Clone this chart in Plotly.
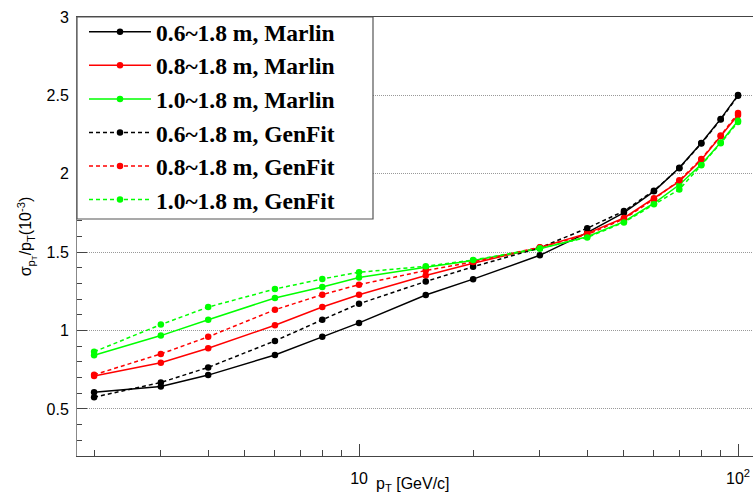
import plotly.graph_objects as go

pt = [2, 3, 4, 6, 8, 10, 15, 20, 30, 40, 50, 60, 70, 80, 90, 100]

marlin_06 = [0.607, 0.643, 0.716, 0.844, 0.960, 1.049, 1.227, 1.328, 1.480, 1.625, 1.752, 1.888, 2.038, 2.197, 2.350, 2.502]
marlin_08 = [0.710, 0.795, 0.887, 1.034, 1.150, 1.229, 1.351, 1.430, 1.530, 1.620, 1.718, 1.844, 1.952, 2.090, 2.240, 2.375]
marlin_10 = [0.842, 0.968, 1.069, 1.208, 1.278, 1.338, 1.404, 1.447, 1.522, 1.598, 1.695, 1.812, 1.930, 2.060, 2.200, 2.338]
genfit_06 = [0.575, 0.669, 0.765, 0.934, 1.069, 1.171, 1.313, 1.407, 1.528, 1.653, 1.762, 1.892, 2.035, 2.193, 2.346, 2.497]
genfit_08 = [0.718, 0.851, 0.960, 1.133, 1.229, 1.293, 1.383, 1.438, 1.532, 1.612, 1.712, 1.838, 1.958, 2.095, 2.244, 2.387]
genfit_10 = [0.865, 1.038, 1.150, 1.265, 1.329, 1.372, 1.410, 1.450, 1.525, 1.594, 1.690, 1.805, 1.900, 2.055, 2.195, 2.330]

series = [
    ("0.6~1.8 m, Marlin", marlin_06, "#000000", "solid"),
    ("0.8~1.8 m, Marlin", marlin_08, "#ff0000", "solid"),
    ("1.0~1.8 m, Marlin", marlin_10, "#00ff00", "solid"),
    ("0.6~1.8 m, GenFit", genfit_06, "#000000", "4px,3px"),
    ("0.8~1.8 m, GenFit", genfit_08, "#ff0000", "4px,3px"),
    ("1.0~1.8 m, GenFit", genfit_10, "#00ff00", "4px,3px"),
]

x_major = [10, 100]
x_major_text = ["10", "10<sup>2</sup>"]
x_minor = [2, 3, 4, 5, 6, 7, 8, 9, 20, 30, 40, 50, 60, 70, 80, 90]

fig = go.Figure()
for i, (name, ys, col, dash) in enumerate(series):
    fig.add_trace(go.Scatter(
        x=pt, y=ys, mode="lines+markers", name="<b>" + name + "</b>",
        legendgroup="g%d" % i,
        line=dict(color=col, width=1.5, dash=dash),
        marker=dict(color=col, size=6.5, symbol="circle"),
    ))

W, H = 753, 497
ml, mr, mt, mb = 77, 0, 17, 41
pw, ph = W - ml - mr, H - mt - mb

def px_x(p):
    return (p - ml) / pw

def px_y(p):
    return 1 - (p - mt) / ph

# legend frame
fig.add_shape(type="rect", xref="paper", yref="paper",
              x0=px_x(77), x1=px_x(373), y0=px_y(219), y1=px_y(17),
              line=dict(color="#555555", width=1.2), fillcolor="white", layer="above")

fig.add_annotation(text="p<sub>T</sub> [GeV/c]", xref="paper", yref="paper",
                   x=px_x(374), y=px_y(484), xanchor="left", yanchor="middle",
                   showarrow=False, font=dict(family="Liberation Sans", size=16, color="black"))

fig.update_layout(
    width=W, height=H,
    margin=dict(l=ml, r=mr, t=mt, b=mb),
    paper_bgcolor="white", plot_bgcolor="white",
    font=dict(family="Liberation Sans", size=16, color="black"),
    showlegend=True,
    legend=dict(x=px_x(84), y=px_y(10), xanchor="left", yanchor="top",
                bgcolor="rgba(0,0,0,0)", borderwidth=0,
                font=dict(family="Liberation Serif", size=23.5, color="black"),
                tracegroupgap=0, itemwidth=62),
    xaxis=dict(type="log", range=[0.2559, 2.0395],
               tickmode="array", tickvals=x_major, ticktext=x_major_text,
               ticks="inside", ticklen=12, tickcolor="#444", tickwidth=1,
               showline=True, linecolor="#444", linewidth=1, mirror=True,
               showgrid=False, zeroline=False, ticklabelstandoff=8,
               minor=dict(tickmode="array", tickvals=x_minor, ticks="inside",
                          ticklen=6, tickcolor="#444", showgrid=False)),
    yaxis=dict(range=[0.2, 3.0], tickmode="linear", tick0=0.5, dtick=0.5,
               ticks="inside", ticklen=10, tickcolor="#444", tickwidth=1,
               showline=True, linecolor="#888", linewidth=1,
               showgrid=True, gridcolor="#999", griddash="1px,1px", gridwidth=1,
               zeroline=False, ticklabelstandoff=4,
               title=dict(text="σ<sub>p<sub>T</sub></sub>/p<sub>T</sub>(10<sup>-3</sup>)",
                          font=dict(size=16), standoff=10),
               minor=dict(dtick=0.1, tick0=0.2, ticks="inside", ticklen=5,
                          tickcolor="#444", showgrid=False)),
)

fig.write_html("out.html")
